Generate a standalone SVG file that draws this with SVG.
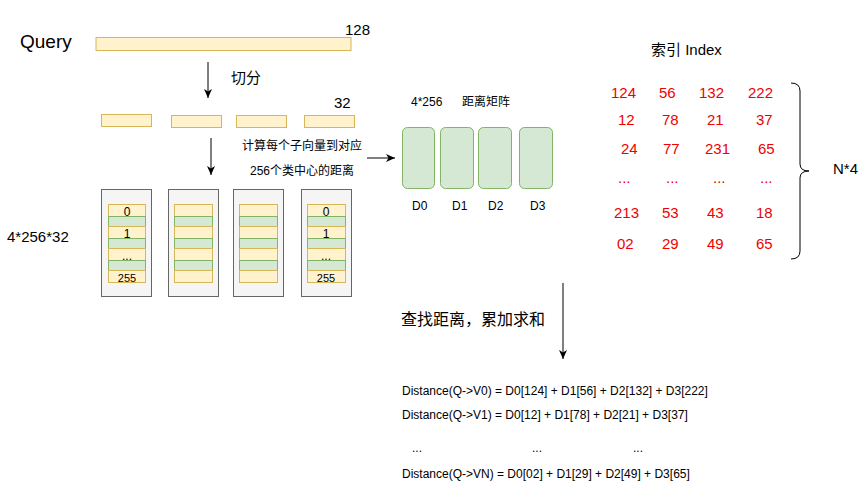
<svg xmlns="http://www.w3.org/2000/svg" width="863" height="497" viewBox="0 0 863 497">
<defs>
<marker id="ah" markerWidth="10" markerHeight="10" refX="9" refY="5" orient="auto" markerUnits="userSpaceOnUse">
<path d="M0,1 L9,5 L0,9 L2.5,5 Z" fill="#000"/>
</marker>
<style>
text{font-family:"Liberation Sans","Noto Sans CJK SC",Arial,sans-serif;fill:#000}
.y{fill:#fff2cc;stroke:#d6b656;stroke-width:1}
.g{fill:#d5e8d4;stroke:#82b366;stroke-width:1}
.box{fill:#f5f5f5;stroke:#666;stroke-width:1}
.line{stroke:#000;stroke-width:1;fill:none}
.red{fill:#f00000;font-size:15px}
.t12{font-size:12px}
.st{font-size:12px;text-anchor:middle}
</style>
</defs>
<rect width="863" height="497" fill="#fff"/>

<g id="query">
<text x="20" y="48" font-size="19">Query</text>
<rect class="y" x="96" y="37.5" width="255" height="13"/>
<text x="345" y="35" font-size="15">128</text>
</g>

<g id="split-label"><text x="231" y="83" font-size="15">切分</text></g>

<g id="subvectors">
<rect class="y" x="101.5" y="114.5" width="50" height="12"/>
<rect class="y" x="171.5" y="115.5" width="50" height="12"/>
<rect class="y" x="236.5" y="115.5" width="50" height="12"/>
<rect class="y" x="304.5" y="115.5" width="50" height="12"/>
<text x="334" y="108" font-size="15">32</text>
</g>

<g id="calc-label">
<text x="242" y="150" class="t12">计算每个子向量到对应</text>
<text x="250" y="175" class="t12">256个类中心的距离</text>
</g>

<g id="codebook-label"><text x="7" y="242" font-size="15">4*256*32</text></g>

<g id="codebook1">
<rect class="box" x="101.5" y="189.5" width="50" height="107"/>
<rect class="y" x="108.5" y="204.5" width="37" height="12"/>
<rect class="g" x="108.5" y="216.5" width="37" height="10"/>
<rect class="y" x="108.5" y="226.5" width="37" height="12"/>
<rect class="g" x="108.5" y="238.5" width="37" height="10"/>
<rect class="y" x="108.5" y="248.5" width="37" height="12"/>
<rect class="g" x="108.5" y="260.5" width="37" height="10"/>
<rect class="y" x="108.5" y="270.5" width="37" height="12"/>
<text x="127" y="216" class="st">0</text>
<text x="127" y="238" class="st">1</text>
<text x="127" y="260" class="st">...</text>
<text x="127" y="282" font-size="11" text-anchor="middle">255</text>
</g>
<g id="codebook2">
<rect class="box" x="168.5" y="189.5" width="50" height="107"/>
<rect class="y" x="174.5" y="204.5" width="38" height="12"/>
<rect class="g" x="174.5" y="216.5" width="38" height="10"/>
<rect class="y" x="174.5" y="226.5" width="38" height="12"/>
<rect class="g" x="174.5" y="238.5" width="38" height="10"/>
<rect class="y" x="174.5" y="248.5" width="38" height="12"/>
<rect class="g" x="174.5" y="260.5" width="38" height="10"/>
<rect class="y" x="174.5" y="270.5" width="38" height="12"/>
</g>
<g id="codebook3">
<rect class="box" x="233.5" y="189.5" width="50" height="107"/>
<rect class="y" x="239.5" y="204.5" width="38" height="12"/>
<rect class="g" x="239.5" y="216.5" width="38" height="10"/>
<rect class="y" x="239.5" y="226.5" width="38" height="12"/>
<rect class="g" x="239.5" y="238.5" width="38" height="10"/>
<rect class="y" x="239.5" y="248.5" width="38" height="12"/>
<rect class="g" x="239.5" y="260.5" width="38" height="10"/>
<rect class="y" x="239.5" y="270.5" width="38" height="12"/>
</g>
<g id="codebook4">
<rect class="box" x="301.5" y="189.5" width="50" height="107"/>
<rect class="y" x="307.5" y="204.5" width="38" height="12"/>
<rect class="g" x="307.5" y="216.5" width="38" height="10"/>
<rect class="y" x="307.5" y="226.5" width="38" height="12"/>
<rect class="g" x="307.5" y="238.5" width="38" height="10"/>
<rect class="y" x="307.5" y="248.5" width="38" height="12"/>
<rect class="g" x="307.5" y="260.5" width="38" height="10"/>
<rect class="y" x="307.5" y="270.5" width="38" height="12"/>
<text x="326" y="216" class="st">0</text>
<text x="326" y="238" class="st">1</text>
<text x="326" y="260" class="st">...</text>
<text x="326" y="282" font-size="11" text-anchor="middle">255</text>
</g>

<g id="dist-matrix">
<text x="411" y="106" class="t12">4*256</text>
<text x="462" y="106" class="t12">距离矩阵</text>
<rect class="g" x="402.5" y="127.5" width="32" height="61" rx="5"/>
<rect class="g" x="440.5" y="127.5" width="33" height="61" rx="5"/>
<rect class="g" x="478.5" y="127.5" width="33" height="61" rx="5"/>
<rect class="g" x="519.5" y="127.5" width="33" height="61" rx="5"/>
<text x="412" y="210" class="t12">D0</text>
<text x="452" y="210" class="t12">D1</text>
<text x="488" y="210" class="t12">D2</text>
<text x="530" y="210" class="t12">D3</text>
</g>

<g id="index">
<text x="651" y="55" font-size="15">索引 Index</text>
<text class="red" x="611" y="98">124</text><text class="red" x="659" y="98">56</text><text class="red" x="699" y="98">132</text><text class="red" x="748" y="98">222</text>
<text class="red" x="618" y="125">12</text><text class="red" x="662" y="125">78</text><text class="red" x="707" y="125">21</text><text class="red" x="756" y="125">37</text>
<text class="red" x="621" y="154">24</text><text class="red" x="663" y="154">77</text><text class="red" x="705" y="154">231</text><text class="red" x="758" y="154">65</text>
<text class="red" x="618" y="183" font-size="12">...</text><text class="red" x="666" y="183" font-size="12">...</text><text class="red" x="713" y="183" font-size="12">...</text><text class="red" x="760" y="183" font-size="12">...</text>
<text class="red" x="614" y="218">213</text><text class="red" x="662" y="218">53</text><text class="red" x="707" y="218">43</text><text class="red" x="756" y="218">18</text>
<text class="red" x="617" y="249">02</text><text class="red" x="662" y="249">29</text><text class="red" x="707" y="249">49</text><text class="red" x="756" y="249">65</text>
</g>

<g id="brace">
<path class="line" d="M791,83 Q800,83 800,91 L800,164 Q800,171 809,171 Q800,171 800,178 L800,251 Q800,259 791,259"/>
<text x="833" y="174" font-size="15">N*4</text>
</g>

<g id="sum-label"><text x="401" y="325" font-size="16">查找距离，累加求和</text></g>

<g id="formulas">
<text x="402" y="395" class="t12">Distance(Q-&gt;V0) = D0[124] + D1[56] + D2[132] + D3[222]</text>
<text x="402" y="419" class="t12">Distance(Q-&gt;V1) = D0[12] + D1[78] + D2[21] + D3[37]</text>
<text x="412" y="452" class="t12">...</text>
<text x="532" y="452" class="t12">...</text>
<text x="633" y="452" class="t12">...</text>
<text x="402" y="478" class="t12">Distance(Q-&gt;VN) = D0[02] + D1[29] + D2[49] + D3[65]</text>
</g>

<g id="connectors">
<line class="line" x1="208" y1="62" x2="208" y2="98" marker-end="url(#ah)"/>
<line class="line" x1="211" y1="138" x2="211" y2="175" marker-end="url(#ah)"/>
<line class="line" x1="367" y1="158" x2="395" y2="158" marker-end="url(#ah)"/>
<line class="line" x1="563" y1="283" x2="563" y2="359" marker-end="url(#ah)"/>
</g>
</svg>
